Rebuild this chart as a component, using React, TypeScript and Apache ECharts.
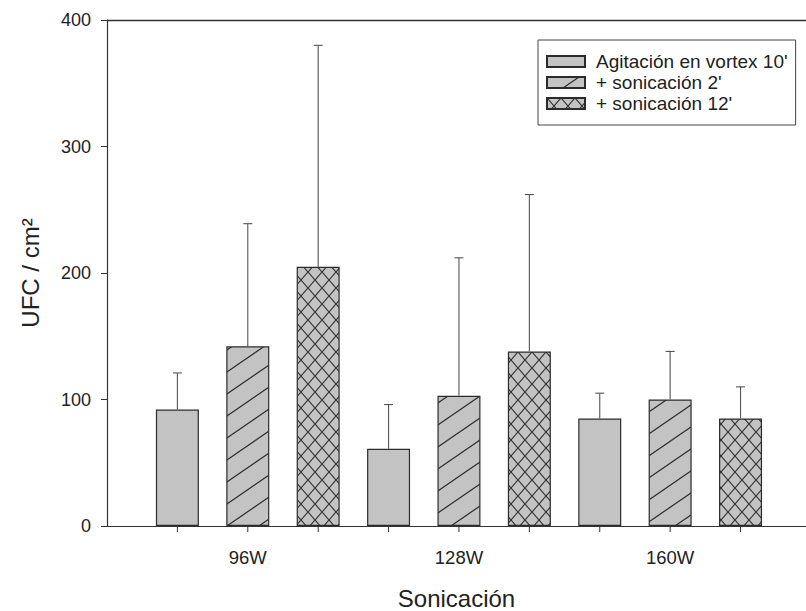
import React, { useEffect, useRef } from "react";
import * as echarts from "echarts";

// ---- data ----
const groups = ["96W", "128W", "160W"];
const seriesNames = ["Agitación en vortex 10'", "+ sonicación 2'", "+ sonicación 12'"];
const vortexMean = [92, 61, 85];
const vortexSD = [29, 35, 20];
const sonic2Mean = [142, 103, 100];
const sonic2SD = [97, 109, 38];
const sonic12Mean = [205, 138, 85];
const sonic12SD = [175, 124, 25];
const yTicks = [0, 100, 200, 300, 400];
const xTitle = "Sonicación";
const yTitle = "UFC / cm²";

const FONT = "'Liberation Sans', Arial, sans-serif";
const FILL = "#c3c3c3";
const INK = "#2b2b2b";

function svgUrl(svg: string) {
  return "data:image/svg+xml;charset=utf-8," + encodeURIComponent(svg);
}

const solidPattern = FILL;
const diagPattern = {
  image: svgUrl(
    `<svg xmlns='http://www.w3.org/2000/svg' width='32' height='22'><rect width='32' height='22' fill='${FILL}'/><path d='M-32,22 L32,-22 M0,22 L32,0 M0,44 L64,0' stroke='${INK}' stroke-width='1.2' fill='none'/></svg>`
  ),
  imageWidth: 32,
  imageHeight: 22,
  repeat: "repeat",
};
const crossPattern = {
  image: svgUrl(
    `<svg xmlns='http://www.w3.org/2000/svg' width='14' height='16'><rect width='14' height='16' fill='${FILL}'/><path d='M-14,-16 L28,32 M-14,32 L28,-16' stroke='${INK}' stroke-width='1.1' fill='none'/></svg>`
  ),
  imageWidth: 14,
  imageHeight: 16,
  repeat: "repeat",
};

const means = [vortexMean, sonic2Mean, sonic12Mean];
const sds = [vortexSD, sonic2SD, sonic12SD];
const fills: any[] = [solidPattern, diagPattern, crossPattern];

// bars sit at x = 1..9 (three per group); the axis is cut off at the right edge
const xMin = 0;
const xMax = 9.93;
const slotOf = (g: number, s: number) => 1 + g * 3 + s;
const tickSlots = [1, 2, 3, 4, 5, 6, 7, 8, 9];

export default function App() {
  const ref = useRef<HTMLDivElement>(null);
  useEffect(() => {
    document.body.style.margin = "0";
    document.body.style.overflow = "hidden";
    document.documentElement.style.overflow = "hidden";
    if (!ref.current) return;
    const chart = echarts.init(ref.current, undefined, { renderer: "svg" });

    const barSeries = seriesNames.map((name, s) => ({
      name,
      type: "bar",
      data: groups.map((_, g) => [slotOf(g, s), means[s][g]]),
      barWidth: 43,
      barGap: "-100%",
      itemStyle: { color: fills[s], borderColor: INK, borderWidth: 1.2 },
      emphasis: { disabled: true },
      silent: true,
      z: 2,
    }));

    const errData: number[][] = [];
    means.forEach((m, s) => {
      groups.forEach((_, g) => {
        errData.push([slotOf(g, s), m[g], m[g] + sds[s][g]]);
      });
    });

    const option: any = {
      animation: false,
      backgroundColor: "#ffffff",
      textStyle: { fontFamily: FONT },
      grid: { left: 107, top: 20, right: 0, bottom: 85, containLabel: false, outerBoundsMode: "none" },
      legend: {
        data: seriesNames,
        left: 538,
        top: 40,
        orient: "vertical",
        padding: [12, 8, 12, 8],
        itemGap: 2,
        itemWidth: 38,
        itemHeight: 11,
        icon: "rect",
        borderColor: "#444",
        borderWidth: 1,
        selectedMode: false,
        textStyle: { fontSize: 19, color: "#222", fontFamily: FONT, padding: [0, 0, 0, 6] },
      },
      xAxis: [
        {
          type: "value",
          min: xMin,
          max: xMax,
          interval: 1,
          name: xTitle,
          nameLocation: "middle",
          nameGap: 60,
          nameTextStyle: { fontSize: 24, color: "#222", fontFamily: FONT },
          axisLine: { lineStyle: { color: "#333", width: 1.2 } },
          axisTick: { show: false },
          axisLabel: {
            margin: 22,
            fontSize: 18.5,
            color: "#222",
            fontFamily: FONT,
            showMinLabel: true,
            showMaxLabel: false,
            formatter: (v: number) => {
              const g = (v - 2) / 3;
              return Number.isInteger(g) && g >= 0 && g < groups.length ? groups[g] : "";
            },
          },
          splitLine: { show: false },
        },
        {
          type: "value",
          min: xMin,
          max: xMax,
          position: "top",
          axisLine: { show: true, lineStyle: { color: "#333", width: 1.4 } },
          axisTick: { show: false },
          axisLabel: { show: false },
          splitLine: { show: false },
        },
      ],
      yAxis: {
        type: "value",
        min: yTicks[0],
        max: yTicks[yTicks.length - 1],
        interval: yTicks[1] - yTicks[0],
        name: yTitle,
        nameLocation: "middle",
        nameGap: 65,
        nameTextStyle: { fontSize: 24, color: "#222", fontFamily: FONT },
        axisLine: { show: true, lineStyle: { color: "#333", width: 1.2 } },
        axisTick: { show: true, length: 6, lineStyle: { color: "#333", width: 1 } },
        axisLabel: { margin: 16, fontSize: 18, color: "#222", fontFamily: FONT },
        splitLine: { show: false },
      },
      series: [
        ...barSeries,
        {
          type: "custom",
          name: "err",
          data: errData,
          silent: true,
          z: 3,
          renderItem: (_p: any, api: any) => {
            const x = api.value(0);
            const p0 = api.coord([x, api.value(1)]);
            const p1 = api.coord([x, api.value(2)]);
            const style = { stroke: "#555", lineWidth: 1.1 };
            return {
              type: "group",
              children: [
                { type: "line", shape: { x1: p0[0], y1: p0[1], x2: p1[0], y2: p1[1] }, style },
                { type: "line", shape: { x1: p1[0] - 4.5, y1: p1[1], x2: p1[0] + 4.5, y2: p1[1] }, style },
              ],
            };
          },
        },
        {
          type: "custom",
          name: "xticks",
          data: tickSlots.map((t) => [t, 0]),
          silent: true,
          clip: false,
          z: 3,
          renderItem: (_p: any, api: any) => {
            const p = api.coord([api.value(0), api.value(1)]);
            return {
              type: "line",
              shape: { x1: p[0], y1: p[1], x2: p[0], y2: p[1] + 6 },
              style: { stroke: "#333", lineWidth: 1 },
            };
          },
        },
      ],
    };
    chart.setOption(option);
    return () => chart.dispose();
  }, []);
  return (
    <div
      ref={ref}
      style={{ width: 806, height: 611, background: "#fff", overflow: "hidden", position: "relative" }}
    />
  );
}
